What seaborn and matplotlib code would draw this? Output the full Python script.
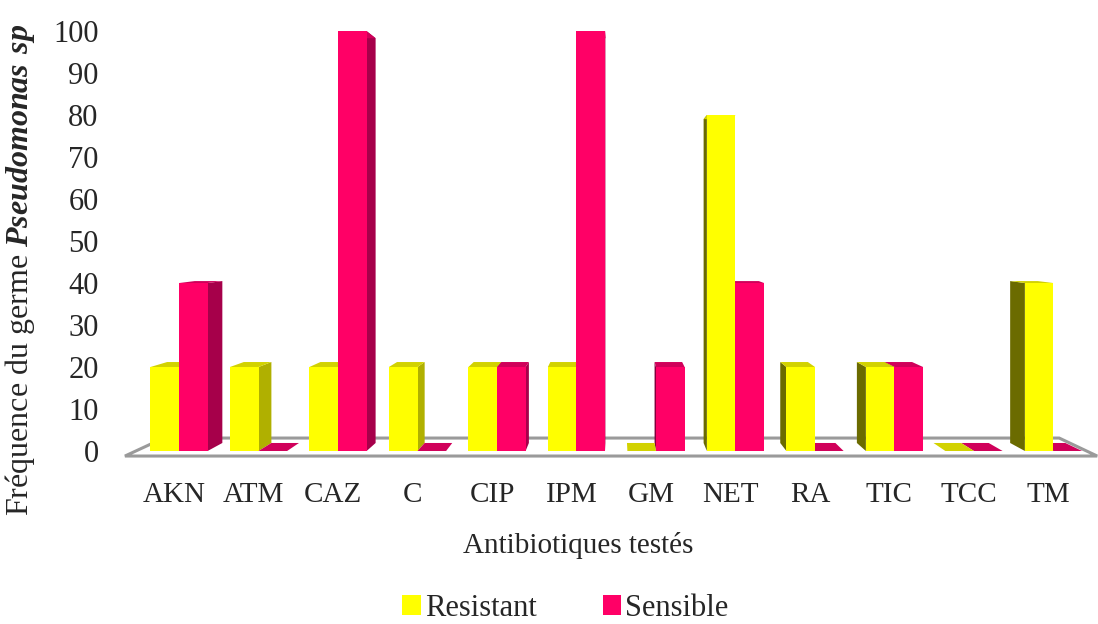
import matplotlib
matplotlib.use("Agg")
import matplotlib.pyplot as plt
import matplotlib.transforms as mtransforms
import seaborn as sns
import pandas as pd
import numpy as np
from matplotlib.patches import Polygon, Patch

categories = ["AKN", "ATM", "CAZ", "C", "CIP", "IPM", "GM", "NET", "RA", "TIC", "TCC", "TM"]
resistant = [20, 20, 20, 20, 20, 20, 0, 80, 20, 20, 0, 40]
sensible = [40, 0, 100, 0, 20, 100, 20, 40, 0, 20, 0, 0]
series_names = ["Resistant", "Sensible"]
yticks = list(range(0, 101, 10))

sns.set_theme(style="white")
plt.rcParams["font.family"] = ["Liberation Serif", "DejaVu Serif"]
plt.rcParams["mathtext.fontset"] = "custom"
plt.rcParams["mathtext.rm"] = "Liberation Serif"
plt.rcParams["mathtext.bfit"] = "Liberation Serif:italic:bold"

df = pd.DataFrame({
    "Antibiotique": categories * 2,
    "Valeur": resistant + sensible,
    "Serie": [series_names[0]] * len(categories) + [series_names[1]] * len(categories),
})

front = {"Resistant": "#FFFF00", "Sensible": "#FF0066"}
top_c = {"Resistant": "#D2D200", "Sensible": "#D0005A"}
side_r = {"Resistant": "#B0B000", "Sensible": "#A6004A"}
side_l = {"Resistant": "#6B6B00", "Sensible": "#82003C"}

fig = plt.figure(figsize=(10.98, 6.24), dpi=100)
ax = fig.add_axes([0.1138, 0.2638, 0.8862, 0.6897])

sns.barplot(data=df, x="Antibiotique", y="Valeur", hue="Serie",
            palette=front, width=0.72, dodge=True, legend=False, ax=ax,
            saturation=1, linewidth=0, err_kws={"linewidth": 0})

xlo, xhi = -0.68, 11.56
ax.set_xlim(xlo, xhi)
ax.set_ylim(-2, 100.5)

xv, yv, t = 5.5, 53.0, 0.036

def back(x, y, tt=t):
    return (x + tt * (xv - x), y + tt * (yv - y))

# floor
tf = 0.079
fy = -1.2
floor = [(xlo, fy), (xhi - 0.01, fy), back(xhi - 0.01, fy, tf), back(xlo, fy, tf)]
ax.add_patch(Polygon(floor, closed=True, facecolor="white", edgecolor="#9A9A9A",
                     linewidth=2.2, zorder=1, clip_on=False))

bars = [p for p in ax.patches if isinstance(p, matplotlib.patches.Rectangle)]
n = len(categories)
for i, p in enumerate(bars[:2 * n]):
    s = series_names[0] if i < n else series_names[1]
    x0 = p.get_x()
    w = p.get_width()
    h = p.get_height()
    x1 = x0 + w
    xc = x0 + w / 2
    z = 10 - abs(xc - xv) * 0.5
    p.set_zorder(z + 0.2)
    p.set_facecolor(front[s])
    p.set_edgecolor("none")
    p.set_clip_on(False)
    top = [(x0, h), (x1, h), back(x1, h), back(x0, h)]
    ax.add_patch(Polygon(top, closed=True, facecolor=top_c[s], edgecolor="none",
                         zorder=z + 0.1, clip_on=False))
    if xc < xv:
        xe, col = x1, side_r[s]
    else:
        xe, col = x0, side_l[s]
    if h > 0:
        side = [(xe, 0), (xe, h), back(xe, h), back(xe, 0)]
        ax.add_patch(Polygon(side, closed=True, facecolor=col, edgecolor="none",
                             zorder=z, clip_on=False))

ax.set_yticks(yticks)
ax.set_yticklabels([str(v) for v in yticks], fontsize=22)
ax.tick_params(axis="y", length=0, pad=19)
ax.tick_params(axis="x", length=0, pad=16, labelsize=21)
shift = mtransforms.ScaledTranslation(-5 / 100, 0, fig.dpi_scale_trans)
for lbl in ax.get_xticklabels():
    lbl.set_transform(lbl.get_transform() + shift)
for sp in ax.spines.values():
    sp.set_visible(False)
ax.grid(False)

ax.set_xlabel("Antibiotiques testés", fontsize=21)
ax.xaxis.set_label_coords(0.466, -0.168)
ax.set_ylabel(r"Fréquence du germe $\mathbfit{Pseudomonas\ sp}$", fontsize=23)
ax.yaxis.set_label_coords(-0.09, 0.44)

handles = [Patch(facecolor=front[s], edgecolor="none") for s in series_names]
fig.legend(handles, series_names, loc="center", bbox_to_anchor=(0.515, 0.025),
           ncol=2, frameon=False, fontsize=22, handlelength=0.6, handleheight=0.6,
           handletextpad=0.15, columnspacing=2.15)

fig.savefig("out.png", dpi=100)
